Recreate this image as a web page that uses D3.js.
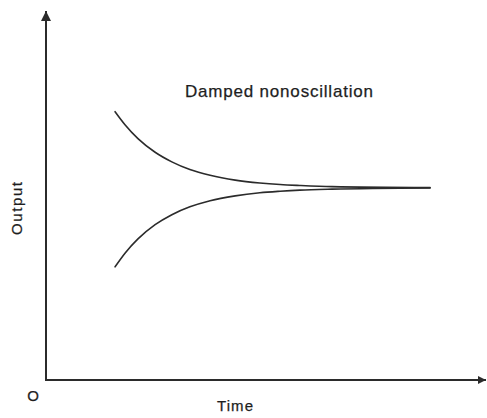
<!DOCTYPE html>
<html>
<head>
<meta charset="utf-8">
<script src="https://cdn.jsdelivr.net/npm/d3@7"></script>
<style>
  html, body { margin: 0; padding: 0; background: #fff; }
  svg { display: block; }
  text { font-family: "Liberation Sans", Arial, Helvetica, sans-serif; fill: #1e1e1e; stroke: #1e1e1e; stroke-width: 0.25; }
</style>
</head>
<body>
<script>
// Step-style response: both curves settle to the final value without overshoot
const time      = [1.57, 1.80, 2.09, 2.48, 2.86, 3.27, 3.73, 4.30, 4.86, 5.32, 5.77, 6.50, 8.73];
const fromAbove = [1.396, 1.327, 1.256, 1.185, 1.135, 1.095, 1.065, 1.040, 1.025, 1.017, 1.012, 1.006, 1.001];
const fromBelow = [0.589, 0.661, 0.734, 0.808, 0.860, 0.901, 0.933, 0.958, 0.974, 0.982, 0.988, 0.993, 0.999];

const curveTitle = "Damped nonoscillation";
const xTitle = "Time";
const yTitle = "Output";
const originLabel = "O";

const W = 487, H = 418;
const svg = d3.select("body").append("svg").attr("width", W).attr("height", H);

const x = d3.scaleLinear().domain([0, 10]).range([46, 486]);
const y = d3.scaleLinear().domain([0, 1.92]).range([380, 11]);

const ink = "#2b2b2b";

// Arrowheads for the axes
const defs = svg.append("defs");
defs.append("marker")
  .attr("id", "arrowY").attr("viewBox", "0 0 10 10")
  .attr("refX", 10).attr("refY", 5)
  .attr("markerWidth", 10).attr("markerHeight", 10)
  .attr("markerUnits", "userSpaceOnUse").attr("orient", "auto")
  .append("path").attr("d", "M0,0L10,5L0,10Z").attr("fill", ink);
defs.append("marker")
  .attr("id", "arrowX").attr("viewBox", "0 0 10 10")
  .attr("refX", 10).attr("refY", 5)
  .attr("markerWidth", 8).attr("markerHeight", 8)
  .attr("markerUnits", "userSpaceOnUse").attr("orient", "auto")
  .append("path").attr("d", "M0,0L10,5L0,10Z").attr("fill", ink);

// Axes without ticks
const xAxis = svg.append("g").attr("transform", `translate(0,${y(0)})`)
  .call(d3.axisBottom(x).tickValues([]).tickSizeOuter(0));
const yAxis = svg.append("g").attr("transform", `translate(${x(0)},0)`)
  .call(d3.axisLeft(y).tickValues([]).tickSizeOuter(0));

xAxis.select(".domain").attr("stroke", ink).attr("stroke-width", 2)
  .attr("d", `M${x(0) - 1},0H${x(10)}`).attr("marker-end", "url(#arrowX)");
yAxis.select(".domain").attr("stroke", ink).attr("stroke-width", 2)
  .attr("d", `M0,${y(0) + 1}V${y(1.92)}`).attr("marker-end", "url(#arrowY)");

// Response curves
const line = d3.line()
  .x((d, i) => x(time[i]))
  .y(d => y(d))
  .curve(d3.curveMonotoneX);

[fromAbove, fromBelow].forEach(series => {
  svg.append("path")
    .datum(series)
    .attr("d", line)
    .attr("fill", "none")
    .attr("stroke", ink)
    .attr("stroke-width", 1.6)
    .attr("stroke-linecap", "round");
});

// Labels
svg.append("text")
  .attr("x", 185).attr("y", 96.5)
  .attr("font-size", 17)
  .attr("textLength", 188).attr("lengthAdjust", "spacing")
  .text(curveTitle);

svg.append("text")
  .attr("x", 217).attr("y", 411)
  .attr("font-size", 15)
  .attr("textLength", 36).attr("lengthAdjust", "spacing")
  .text(xTitle);

svg.append("text")
  .attr("transform", "translate(22,235) rotate(-90)")
  .attr("font-size", 15)
  .attr("textLength", 53).attr("lengthAdjust", "spacing")
  .text(yTitle);

svg.append("text")
  .attr("x", 33).attr("y", 400.5)
  .attr("text-anchor", "middle")
  .attr("font-size", 15)
  .text(originLabel);
</script>
</body>
</html>
